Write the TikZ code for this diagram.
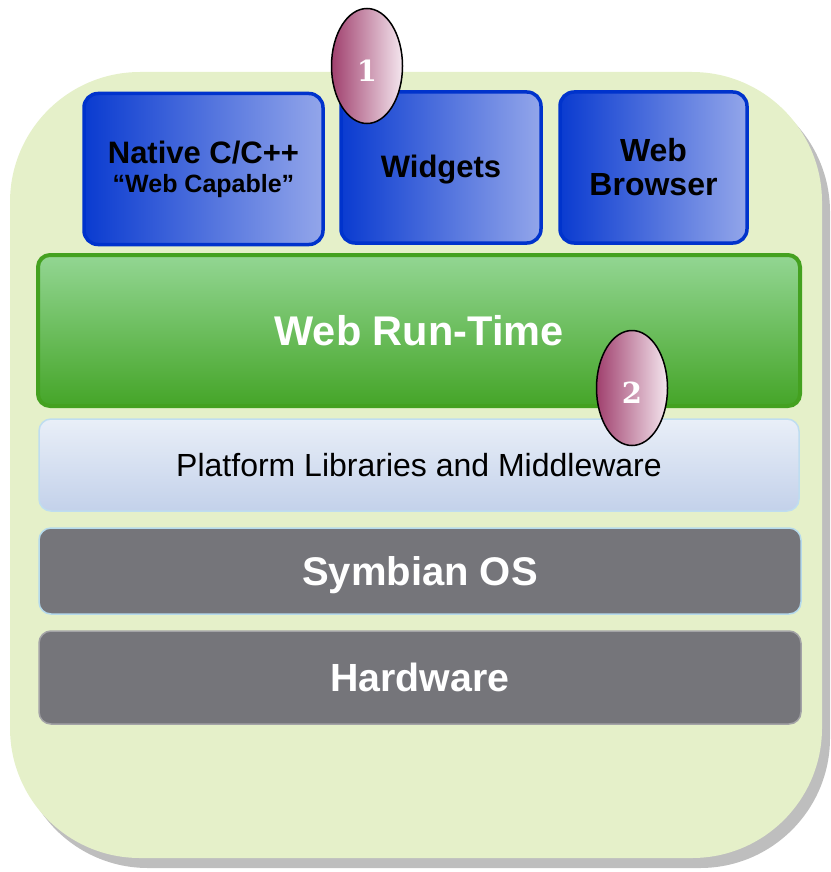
\documentclass[tikz,border=0pt]{standalone}
\usepackage{fontspec}
\setmainfont{Liberation Sans}
\newfontfamily\numfont{DejaVu Serif}
\usetikzlibrary{shapes.geometric}
\definecolor{outerG}{HTML}{E5F0C9}
\definecolor{shadowG}{HTML}{BEBEBE}
\definecolor{blueB}{HTML}{0033CC}
\definecolor{blueL}{HTML}{0A3BD0}
\definecolor{blueR}{HTML}{93A6EA}
\definecolor{greenB}{HTML}{44A120}
\definecolor{greenT}{HTML}{93D693}
\definecolor{greenD}{HTML}{45A528}
\definecolor{platT}{HTML}{E9EFF8}
\definecolor{platB}{HTML}{C3D1EA}
\definecolor{platE}{HTML}{BFDDF0}
\definecolor{grayF}{HTML}{75757A}
\definecolor{grayE}{HTML}{A3A3A6}
\definecolor{symE}{HTML}{B5DAEC}
\definecolor{ovalL}{HTML}{A0406E}
\definecolor{ovalR}{HTML}{F4E6EE}
\tikzset{
  fsz/.style={font=\fontsize{#1}{48}\selectfont\bfseries},
  bluebox/.style={draw=blueB, line width=3.5pt, rounded corners=14pt,
    left color=blueL, right color=blueR, minimum height=151pt,
    align=center, inner sep=0pt, text=black},
  layerbox/.style={rounded corners=12pt, inner sep=0pt, align=center},
  oval/.style={ellipse, draw=black, line width=1.5pt, left color=ovalL,
    right color=ovalR, minimum width=71pt, minimum height=115pt,
    inner sep=0pt, text=white, font=\numfont\fontsize{29}{32}\selectfont\bfseries}
}
\newcommand\lowered[2]{\raisebox{-#1}[0pt][0pt]{#2}}
\begin{document}
\begin{tikzpicture}[x=1pt,y=-1pt]
\useasboundingbox (0,0) rectangle (830,872);
% shadow and outer panel
\fill[shadowG, rounded corners=130pt] (18,82) rectangle (830,868);
\fill[outerG, rounded corners=130pt] (10,72) rectangle (822,858);
% top blue boxes
\node[bluebox, minimum width=239pt, font=\fontsize{31}{29}\selectfont\bfseries] (native) at (203.5,169)
  {Native C/C++\\ {\fontsize{25}{29}\selectfont “Web Capable”}};
\node[bluebox, minimum width=200pt, minimum height=151pt, fsz=31] (widgets) at (441,167.5) {\lowered{10pt}{Widgets}};
\node[bluebox, minimum width=187pt, font=\fontsize{32}{34}\selectfont\bfseries] (browser) at (653.5,167.5)
  {Web\\Browser};
% layers
\node[layerbox, draw=greenB, line width=4pt, top color=greenT, bottom color=greenD,
  minimum width=762pt, minimum height=151pt, text=white, fsz=41.5] (wrt) at (419,330.5) {Web Run-Time};
\node[layerbox, draw=platE, line width=1.5pt, top color=platT, bottom color=platB,
  minimum width=760pt, minimum height=92pt, text=black,
  font=\fontsize{32}{34}\selectfont] (plat) at (419,465) {Platform Libraries and Middleware};
\node[layerbox, draw=symE, line width=1.5pt, fill=grayF,
  minimum width=762pt, minimum height=86pt, text=white, fsz=40] (sym) at (420,571) {\lowered{14pt}{Symbian OS}};
\node[layerbox, draw=grayE, line width=1.5pt, fill=grayF,
  minimum width=762pt, minimum height=93pt, text=white, fsz=39.3] (hw) at (420,677.5) {Hardware};
% numbered ovals
\node[oval] (one) at (367,66) {\lowered{15.5pt}{1}};
\node[oval] (two) at (632,388) {\lowered{15.5pt}{2}};
\end{tikzpicture}
\end{document}
